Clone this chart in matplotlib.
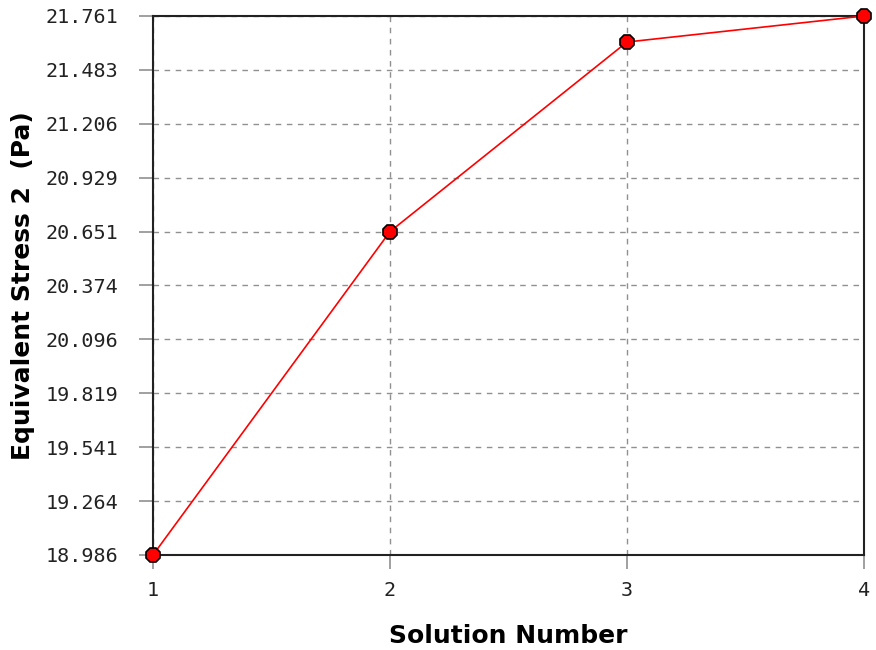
import matplotlib
matplotlib.use("Agg")
import matplotlib.pyplot as plt
import numpy as np

# data
solutions = [1, 2, 3, 4]
stress = [18.986, 20.651, 21.627, 21.761]
ytick_labels = ["18.986", "19.264", "19.541", "19.819", "20.096", "20.374",
                "20.651", "20.929", "21.206", "21.483", "21.761"]

fig = plt.figure(figsize=(8.76, 6.5), dpi=100)
ax = fig.add_axes([153 / 876, 1 - 555 / 650, (864 - 153) / 876, (555 - 16) / 650])

yticks = [float(t) for t in ytick_labels]
ax.plot(solutions, stress, '-', color='red', lw=1.2, zorder=3)
ax.plot(solutions, stress, '8', color='red', markeredgecolor='black',
        markeredgewidth=1.2, markersize=11, zorder=4, clip_on=False)

ax.set_xlim(1, 4)
ax.set_ylim(18.986, 21.761)
ax.set_xticks(solutions)
ax.set_yticks(yticks)
ax.set_yticklabels(ytick_labels)
ax.grid(True, linestyle=(0, (4, 4)), color='#909090', lw=1)
ax.set_axisbelow(True)

for s in ax.spines.values():
    s.set_color('#222222')
    s.set_linewidth(1.5)

ax.tick_params(axis='both', direction='out', length=10, width=1.2, color='#909090',
               labelsize=14.5, labelcolor='#222222')
ax.tick_params(axis='y', pad=15)
ax.tick_params(axis='x', pad=9)
for lbl in ax.get_xticklabels() + ax.get_yticklabels():
    lbl.set_family('DejaVu Sans Mono')

ax.set_xlabel("Solution Number", fontsize=18, fontweight='bold')
ax.set_ylabel("Equivalent Stress 2  (Pa)", fontsize=18, fontweight='bold')
ax.xaxis.set_label_coords(0.5, (555 - 624) / 539)
ax.yaxis.set_label_coords((35 - 153) / 711, 0.5)

fig.savefig("out.png", dpi=100)
